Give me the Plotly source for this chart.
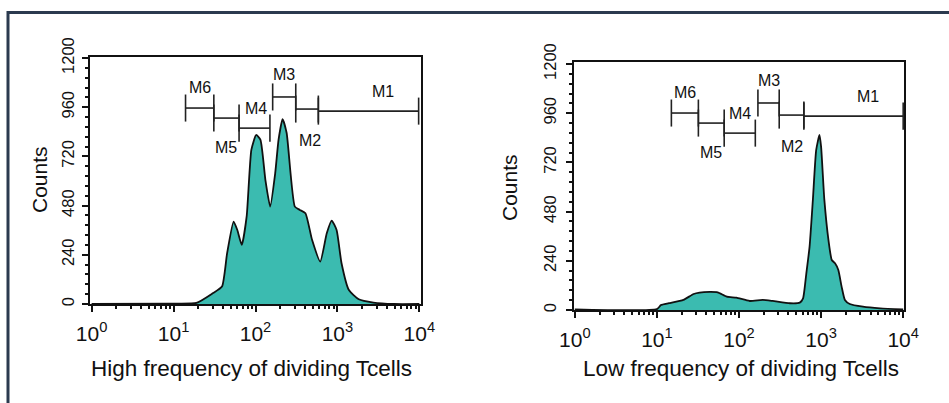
import math
import plotly.graph_objects as go

# ---------------- data ----------------
# Left: high frequency of dividing T cells (fluorescence channel, counts)
high_x = [1, 8.9, 19, 30, 39, 45, 54, 60, 68, 78, 89, 102, 115, 132, 151, 174, 191, 214,
          240, 302, 347, 407, 490, 617, 741, 851, 977, 1122, 1380, 1820, 2750, 4900, 10000]
high_y = [0, 2, 5, 52, 85, 247, 402, 361, 288, 427, 752, 825, 801, 606, 475, 638, 801, 902,
          834, 475, 459, 443, 313, 207, 345, 407, 361, 199, 68, 23, 7, 0, 0]

# Right: low frequency of dividing T cells
low_x = [1, 10, 11.2, 14, 21, 28, 33, 44, 55, 71, 93, 135, 195, 257, 417, 550, 603, 661, 724,
         794, 871, 955, 1000, 1096, 1230, 1349, 1479, 1622, 1778, 1950, 2239, 3236, 5248, 10000]
low_y = [3, 4, 24, 33, 49, 78, 85, 88, 86, 65, 60, 44, 49, 44, 33, 36, 57, 179, 309,
         537, 780, 854, 797, 537, 341, 244, 228, 195, 114, 49, 29, 16, 8, 3]

# Gates (markers M1..M6)
gate_names = ["M1", "M2", "M3", "M4", "M5", "M6"]
high_gate_lo = [585, 310, 162, 63, 31, 14]
high_gate_hi = [9800, 585, 310, 150, 63, 31]
high_gate_level = [941, 951, 1010, 858, 907, 956]

low_gate_lo = [617, 309, 170, 66, 32, 15]
low_gate_hi = [10000, 617, 309, 158, 66, 32]
low_gate_level = [946, 951, 1010, 863, 912, 961]

x_tick_vals = [1, 10, 100, 1000, 10000]
x_tick_text = ["10<sup>0</sup>", "10<sup>1</sup>", "10<sup>2</sup>", "10<sup>3</sup>", "10<sup>4</sup>"]
y_tick_vals = [0, 240, 480, 720, 960, 1200]

x_titles = ["High frequency of dividing Tcells", "Low frequency of dividing Tcells"]

# ---------------- figure ----------------
W, H = 949, 403
FONT = "Liberation Sans, Arial, sans-serif"
FILL = "#3bbbb0"
INK = "#111111"

fig = go.Figure()

panels = [
    dict(x=high_x, y=high_y, lo=high_gate_lo, hi=high_gate_hi, lv=high_gate_level,
         xa="x", ya="y", label_dx=[14, 3, 0, 2, 0, 0]),
    dict(x=low_x, y=low_y, lo=low_gate_lo, hi=low_gate_hi, lv=low_gate_level,
         xa="x2", ya="y2", label_dx=[14, 0, 0, 0, 0, 0]),
]
label_shift = {"M1": 20, "M2": -31, "M3": 22, "M4": 20, "M5": -29, "M6": 21}
CAP = 66

for p in panels:
    fig.add_trace(go.Scatter(
        x=p["x"], y=p["y"], mode="lines", fill="tozeroy", fillcolor=FILL,
        line=dict(color=INK, width=1.8, shape="spline", smoothing=0.5),
        xaxis=p["xa"], yaxis=p["ya"], hoverinfo="skip"))
    for i, name in enumerate(gate_names):
        lo, hi, lv = p["lo"][i], p["hi"][i], p["lv"][i]
        fig.add_trace(go.Scatter(
            x=[lo, hi, None, lo, lo, None, hi, hi],
            y=[lv, lv, None, lv - CAP, lv + CAP, None, lv - CAP, lv + CAP],
            mode="lines", line=dict(color="#222222", width=1.6),
            xaxis=p["xa"], yaxis=p["ya"], hoverinfo="skip"))
        fig.add_annotation(
            x=(math.log10(lo) + math.log10(hi)) / 2, y=lv, xref=p["xa"], yref=p["ya"],
            text=name, showarrow=False,
            font=dict(family=FONT, size=16, color=INK),
            yshift=label_shift[name], xshift=p["label_dx"][i])


def px_x(v):
    return v / W


def px_y(v):
    return 1 - v / H


axis_common = dict(showline=True, linecolor=INK, linewidth=2, mirror=True,
                   showgrid=False, zeroline=False, ticks="outside", tickcolor=INK,
                   automargin=False)

minor_x = [m * d for d in [1, 10, 100, 1000] for m in range(2, 10)]
XT = dict(size=21, family=FONT, color=INK)
YT = dict(size=16.5, family=FONT, color=INK)

fig.update_layout(
    width=W, height=H, margin=dict(l=0, r=0, t=0, b=0, autoexpand=False),
    paper_bgcolor="white", plot_bgcolor="white", showlegend=False,
    font=dict(family=FONT, color=INK),
    xaxis=dict(type="log", range=[-0.02, 4.02], domain=[px_x(90), px_x(421)], anchor="y",
               tickvals=x_tick_vals, ticktext=x_tick_text, ticklen=6, tickwidth=1.5,
               tickfont=XT, ticklabelstandoff=4,
               minor=dict(tickvals=minor_x, ticks="outside", ticklen=3, tickcolor=INK),
               **axis_common),
    yaxis=dict(range=[0, 1205], domain=[px_y(304), px_y(57)], anchor="x",
               tickvals=y_tick_vals, tickangle=-90, ticklen=6, tickwidth=1.5,
               tickfont=YT, ticklabelstandoff=1,
               minor=dict(dtick=48, ticks="outside", ticklen=3, tickcolor=INK),
               **axis_common),
    xaxis2=dict(type="log", range=[-0.01, 4.01], domain=[px_x(574), px_x(904)], anchor="y2",
                tickvals=x_tick_vals, ticktext=x_tick_text, ticklen=6, tickwidth=1.5,
                tickfont=XT, ticklabelstandoff=4,
                minor=dict(tickvals=minor_x, ticks="outside", ticklen=3, tickcolor=INK),
                **axis_common),
    yaxis2=dict(range=[0, 1210], domain=[px_y(310), px_y(62)], anchor="x2",
                tickvals=y_tick_vals, tickangle=-90, ticklen=6, tickwidth=1.5,
                tickfont=YT, ticklabelstandoff=3,
                minor=dict(dtick=48, ticks="outside", ticklen=3, tickcolor=INK),
                **axis_common),
)

# axis titles
for (cx, cy, txt, ang, sz) in [(39, 180, "Counts", -90, 21), (510, 188, "Counts", -90, 21),
                               (252, 368, x_titles[0], 0, 22.5), (741, 368, x_titles[1], 0, 22.5)]:
    fig.add_annotation(x=px_x(cx), y=px_y(cy), xref="paper", yref="paper", text=txt,
                       showarrow=False, textangle=ang, xanchor="center", yanchor="middle",
                       font=dict(family=FONT, size=sz, color=INK))

# outer frame (top and left rules)
FRAME = "#2b3a4f"
fig.add_shape(type="line", xref="paper", yref="paper", x0=px_x(7), x1=1.0,
              y0=px_y(12.5), y1=px_y(12.5), line=dict(color=FRAME, width=3))
fig.add_shape(type="line", xref="paper", yref="paper", x0=px_x(8), x1=px_x(8),
              y0=px_y(11), y1=0, line=dict(color=FRAME, width=3))

fig.write_html("out.html")
